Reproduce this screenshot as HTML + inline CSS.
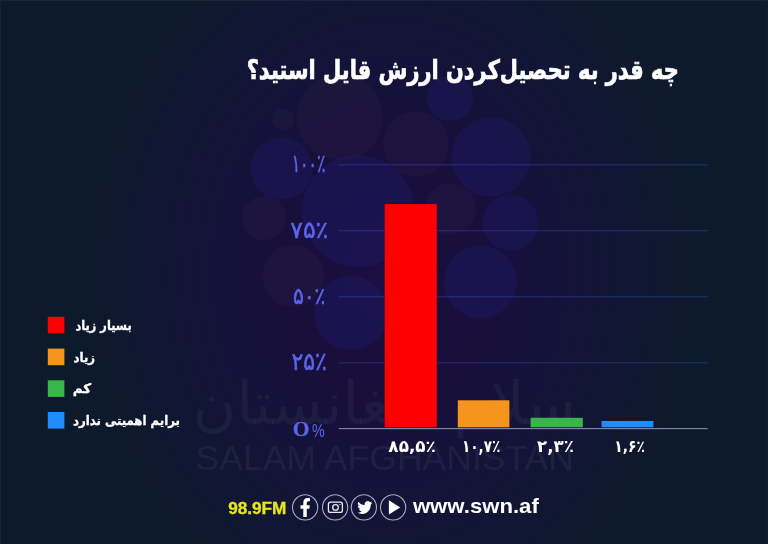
<!DOCTYPE html>
<html lang="fa">
<head>
<meta charset="utf-8">
<title>چه قدر به تحصیل‌کردن ارزش قایل استید؟</title>
<style>
*{margin:0;padding:0}
html,body{width:768px;height:544px;overflow:hidden;background:#0d1a2b}
svg{display:block;position:absolute;left:0;top:0}
text{white-space:pre}
</style>
</head>
<body>
<svg width="768" height="544" viewBox="0 0 768 544">
<defs>
<radialGradient id="g" gradientUnits="userSpaceOnUse" cx="0" cy="0" r="1" gradientTransform="translate(389 272) scale(312 380)">
<stop offset="0" stop-color="#1a0f3f"/><stop offset="0.33" stop-color="#180f3b"/><stop offset="0.54" stop-color="#151239"/><stop offset="0.74" stop-color="#111635"/><stop offset="0.87" stop-color="#0f182f"/><stop offset="1" stop-color="#0d1a2b"/>
</radialGradient>
</defs>
<rect width="768" height="544" fill="#0d1a2b"/>
<rect width="768" height="544" fill="url(#g)"/>
<rect x="0" y="0" width="768" height="1" fill="#18263b"/><rect x="0" y="0" width="1" height="544" fill="#15233a"/><rect x="767" y="0" width="1" height="544" fill="#101e31"/>
<g id="bokeh">
<circle cx="340" cy="117" r="43" fill="rgba(120,80,110,.07)"/>
<circle cx="281.5" cy="168.5" r="31" fill="rgba(45,45,200,.13)"/>
<circle cx="358" cy="211" r="56" fill="rgba(45,45,200,.13)"/>
<circle cx="416" cy="144" r="32.5" fill="rgba(120,80,110,.07)"/>
<circle cx="491" cy="157" r="39.5" fill="rgba(45,45,200,.13)"/>
<circle cx="450" cy="98" r="23" fill="rgba(45,45,200,.13)"/>
<circle cx="264" cy="218" r="22" fill="rgba(120,80,110,.07)"/>
<circle cx="293" cy="276" r="31" fill="rgba(120,80,110,.07)"/>
<circle cx="351" cy="313" r="37" fill="rgba(45,45,200,.13)"/>
<circle cx="510.5" cy="222.5" r="28" fill="rgba(45,45,200,.13)"/>
<circle cx="480.5" cy="282" r="36.5" fill="rgba(45,45,200,.13)"/>
<circle cx="450.5" cy="209" r="25.5" fill="rgba(120,80,110,.07)"/>
<circle cx="283.5" cy="119.5" r="11" fill="rgba(120,80,110,.07)"/>
</g>
<g id="watermark">
<text transform="translate(384.71 470.45) scale(1.030 1)" text-anchor="middle" fill="#ffffff" style="font-family:'Liberation Sans','DejaVu Sans',sans-serif;font-size:34.51px" class="wm" fill-opacity="0.05">SALAM AFGHANISTAN</text>
<text transform="translate(384.30 423.99) scale(1.008 1)" text-anchor="middle" fill="#ffffff" style="font-family:'DejaVu Sans','Liberation Sans',sans-serif;font-size:59.20px" class="wm" fill-opacity="0.045">سلام افغانستان</text>
</g>
<g id="grid" fill="rgba(64,104,255,0.28)">
<rect x="338.8" y="164.2" width="368.9" height="1.2"/>
<rect x="338.8" y="230.1" width="368.9" height="1.2"/>
<rect x="338.8" y="296.1" width="368.9" height="1.2"/>
<rect x="338.8" y="362.2" width="368.9" height="1.2"/>
</g>
<rect x="338.8" y="428" width="368.9" height="1.2" fill="#7c81a3"/>
<g id="bars">
<rect x="384.7" y="204.1" width="52.1" height="223.2" fill="#ff0000"/>
<rect x="457.8" y="400.3" width="51.6" height="27" fill="#f7941d"/>
<rect x="530.6" y="417.8" width="52.2" height="9.5" fill="#39b54a"/>
<rect x="601.6" y="421" width="51.8" height="6.3" fill="#1f8bff"/>
</g>
<g id="legend">
<rect x="47.8" y="316.8" width="16.6" height="16.6" fill="#ff0000"/>
<rect x="47.8" y="348.6" width="16.6" height="16.6" fill="#f7941d"/>
<rect x="47.8" y="380.3" width="16.6" height="16.6" fill="#39b54a"/>
<rect x="47.8" y="412" width="16.6" height="16.6" fill="#1f8bff"/>
</g>
<g id="icons">
 <g fill="none" stroke="#a9aac6" stroke-width="1.1">
  <circle cx="305.1" cy="507.4" r="12.6"/><circle cx="335.1" cy="507.4" r="12.6"/><circle cx="363.9" cy="507.4" r="12.6"/><circle cx="393.1" cy="507.4" r="12.6"/>
 </g>
 <path transform="translate(299.7 498) scale(0.0345 0.0371)" fill="#fff" d="M279.14 288l14.22-92.66h-88.91v-60.13c0-25.35 12.42-50.06 52.24-50.06h40.42V6.26S260.43 0 225.36 0c-73.22 0-121.08 44.38-121.08 124.72v70.62H22.89V288h81.39v224h100.17V288z"/>
 <g fill="none" stroke="#e9e9f2" stroke-width="1.3">
  <rect x="328.4" y="502.2" width="14" height="10.2" rx="2.2"/>
  <circle cx="335.5" cy="507.4" r="2.8"/>
 </g>
 <circle cx="340" cy="504.6" r="0.7" fill="#e9e9f2"/>
 <path transform="translate(357.3 499.7) scale(0.625 0.66)" fill="#fff" d="M23.953 4.57a10 10 0 01-2.825.775 4.958 4.958 0 002.163-2.723c-.951.555-2.005.959-3.127 1.184a4.92 4.92 0 00-8.384 4.482C7.69 8.095 4.067 6.13 1.64 3.162a4.822 4.822 0 00-.666 2.475c0 1.71.87 3.213 2.188 4.096a4.904 4.904 0 01-2.228-.616v.06a4.923 4.923 0 003.946 4.827 4.996 4.996 0 01-2.212.085 4.936 4.936 0 004.604 3.417 9.867 9.867 0 01-6.102 2.105c-.39 0-.779-.023-1.17-.067a13.995 13.995 0 007.557 2.209c9.053 0 13.998-7.496 13.998-13.985 0-.21 0-.42-.015-.63A9.935 9.935 0 0024 4.59z"/>
 <path d="M388.9 500.3 L400.2 507.4 L388.9 514.5 Z" fill="#fff"/>
</g>
<g id="labels">
<text transform="translate(462.71 78.82) scale(0.784 1)" text-anchor="middle" fill="#ffffff" style="font-family:'DejaVu Sans','Liberation Sans',sans-serif;font-weight:bold;font-size:26.73px" stroke="#fff" stroke-width="0.7">چه قدر به تحصیل‌کردن ارزش قایل استید؟</text>
<text transform="translate(308.55 172.10) scale(0.632 1)" text-anchor="middle" fill="#5b66ee" style="font-family:'DejaVu Sans','Liberation Sans',sans-serif;font-size:24.84px;letter-spacing:-2.98px" stroke="#5b66ee" stroke-width="0.5">۱۰۰٪</text>
<text transform="translate(309.30 238.16) scale(0.999 1)" text-anchor="middle" fill="#5b66ee" style="font-family:'DejaVu Sans','Liberation Sans',sans-serif;font-size:23.54px" stroke="#5b66ee" stroke-width="0.5">۷۵٪</text>
<text transform="translate(309.20 303.57) scale(0.872 1)" text-anchor="middle" fill="#5b66ee" style="font-family:'DejaVu Sans','Liberation Sans',sans-serif;font-size:23.08px" stroke="#5b66ee" stroke-width="0.5">۵۰٪</text>
<text transform="translate(309.17 370.16) scale(0.897 1)" text-anchor="middle" fill="#5b66ee" style="font-family:'DejaVu Sans','Liberation Sans',sans-serif;font-size:24.46px" stroke="#5b66ee" stroke-width="0.5">۲۵٪</text>
<text transform="translate(301.25 436.36) scale(1.532 1)" text-anchor="middle" fill="#5b66ee" style="font-family:'Liberation Serif','DejaVu Serif',serif;font-size:21.91px" stroke="#5b66ee" stroke-width="0.5">0</text>
<text transform="translate(318.25 436.82) scale(0.799 1)" text-anchor="middle" fill="#5b66ee" style="font-family:'Liberation Sans','DejaVu Sans',sans-serif;font-size:17.86px" >%</text>
<text transform="translate(412.12 451.88) scale(1.016 1)" text-anchor="middle" fill="#ffffff" style="font-family:'DejaVu Sans','Liberation Sans',sans-serif;font-weight:bold;font-size:16.58px" >۸۵,۵٪</text>
<text transform="translate(481.12 451.85) scale(0.812 1)" text-anchor="middle" fill="#ffffff" style="font-family:'DejaVu Sans','Liberation Sans',sans-serif;font-weight:bold;font-size:16.79px" >۱۰,۷٪</text>
<text transform="translate(555.52 451.85) scale(0.995 1)" text-anchor="middle" fill="#ffffff" style="font-family:'DejaVu Sans','Liberation Sans',sans-serif;font-weight:bold;font-size:16.79px" >۲,۳٪</text>
<text transform="translate(629.54 451.88) scale(0.838 1)" text-anchor="middle" fill="#ffffff" style="font-family:'DejaVu Sans','Liberation Sans',sans-serif;font-weight:bold;font-size:16.58px" >۱,۶٪</text>
<text transform="translate(103.56 330.23) scale(0.863 1)" text-anchor="middle" fill="#ffffff" style="font-family:'DejaVu Sans','Liberation Sans',sans-serif;font-weight:bold;font-size:13.20px" stroke="#fff" stroke-width="0.3">بسیار زیاد</text>
<text transform="translate(84.31 361.80) scale(0.911 1)" text-anchor="middle" fill="#ffffff" style="font-family:'DejaVu Sans','Liberation Sans',sans-serif;font-weight:bold;font-size:12.90px" stroke="#fff" stroke-width="0.3">زیاد</text>
<text transform="translate(81.99 392.73) scale(1.036 1)" text-anchor="middle" fill="#ffffff" style="font-family:'DejaVu Sans','Liberation Sans',sans-serif;font-weight:bold;font-size:13.07px" stroke="#fff" stroke-width="0.3">کم</text>
<text transform="translate(126.47 424.93) scale(0.899 1)" text-anchor="middle" fill="#ffffff" style="font-family:'DejaVu Sans','Liberation Sans',sans-serif;font-weight:bold;font-size:13.07px" stroke="#fff" stroke-width="0.3">برایم اهمیتی ندارد</text>
<text transform="translate(257.31 514.14) scale(1.070 1)" text-anchor="middle" fill="#e8e616" style="font-family:'Liberation Sans','DejaVu Sans',sans-serif;font-weight:bold;font-size:16.06px" stroke="#e8e616" stroke-width="0.3">98.9FM</text>
<text transform="translate(475.85 513.00) scale(1.093 1)" text-anchor="middle" fill="#ffffff" style="font-family:'Liberation Sans','DejaVu Sans',sans-serif;font-weight:bold;font-size:20.27px" >www.swn.af</text>
</g>
</svg>
</body>
</html>
